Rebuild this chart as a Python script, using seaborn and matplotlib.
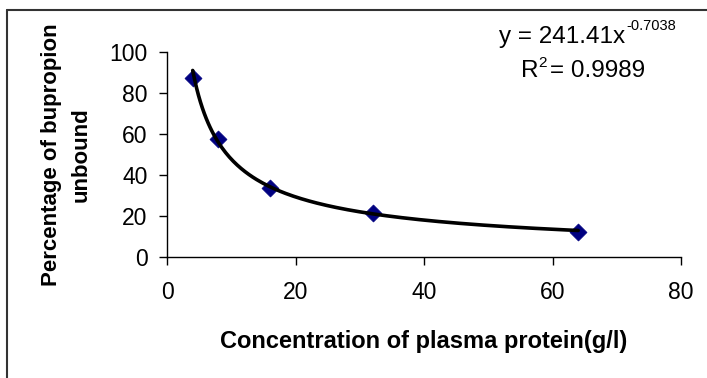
import numpy as np
import pandas as pd
import matplotlib
matplotlib.use("Agg")
import matplotlib.pyplot as plt
from matplotlib.lines import Line2D
import seaborn as sns

# Data
concentration = [4, 8, 16, 32, 64]            # g/l
pct_unbound = [87.5, 57.5, 33.8, 21.3, 12.3]   # %

# Power trendline coefficients as shown on the chart
fit_a = 241.41
fit_b = -0.7038
r_squared = 0.9989

x_ticks = [0, 20, 40, 60, 80]
y_ticks = [0, 20, 40, 60, 80, 100]

sns.set_theme(style="white")
plt.rcParams['font.family'] = ['Liberation Sans', 'DejaVu Sans']
plt.rcParams.update({"text.color": "black", "axes.labelcolor": "black",
                     "xtick.color": "black", "ytick.color": "black"})

W, H = 707, 378
fig = plt.figure(figsize=(W/100, H/100), dpi=100)
ax = fig.add_axes([167/W, 1-257/H, (681-167)/W, (257-52)/H])

df = pd.DataFrame({"conc": concentration, "pct": pct_unbound})
xs = np.linspace(min(concentration), max(concentration), 200)
trend = pd.DataFrame({"conc": xs, "pct": fit_a * xs ** fit_b})

sns.scatterplot(data=df, x="conc", y="pct", ax=ax, marker="D", s=75,
                color="#000080", edgecolor="#000080", linewidth=0.5, zorder=2)
sns.lineplot(data=trend, x="conc", y="pct", ax=ax, color="black",
             linewidth=2.6, zorder=3)

ax.set_xlim(0, 80)
ax.set_ylim(0, 100)
ax.set_xticks(x_ticks)
ax.set_yticks(y_ticks)
ax.tick_params(axis="both", which="both", direction="out", length=6, width=1,
               color="black", labelsize=16.5, bottom=True, left=True)
ax.tick_params(axis="y", pad=8)
ax.tick_params(axis="x", pad=11)
for s in ["top", "right"]:
    ax.spines[s].set_visible(False)
for s in ["left", "bottom"]:
    ax.spines[s].set_color("black")
    ax.spines[s].set_linewidth(1)

ax.set_xlabel("Concentration of plasma protein(g/l)", fontsize=17,
              fontweight="bold", labelpad=19)
ax.set_ylabel("Percentage of bupropion\nunbound", fontsize=16,
              fontweight="bold", labelpad=13, linespacing=1.5)

# trendline equation (hyphen minus as in the original)
fig.text(625/W, 1-43/H, "y = %.2fx" % fit_a, ha="right", va="baseline",
         fontsize=17.5)
fig.text(626/W, 1-30/H, "%.4f" % fit_b, ha="left", va="baseline",
         fontsize=10.5)
fig.text(521/W, 1-77/H, "R", ha="left", va="baseline", fontsize=17.5)
fig.text(538/W, 1-67/H, "2", ha="left", va="baseline", fontsize=11)
fig.text(550/W, 1-77/H, "= %.4f" % r_squared, ha="left", va="baseline",
         fontsize=17.5)

# cropped chart-area border (top and left edges visible)
fig.add_artist(Line2D([7/W, 7/W], [0, 1-10/H], transform=fig.transFigure,
                      color="#333333", linewidth=1.5))
fig.add_artist(Line2D([7/W, 1], [1-10/H, 1-10/H], transform=fig.transFigure,
                      color="#333333", linewidth=1.5))

fig.savefig("out.png", dpi=100, facecolor="white")
